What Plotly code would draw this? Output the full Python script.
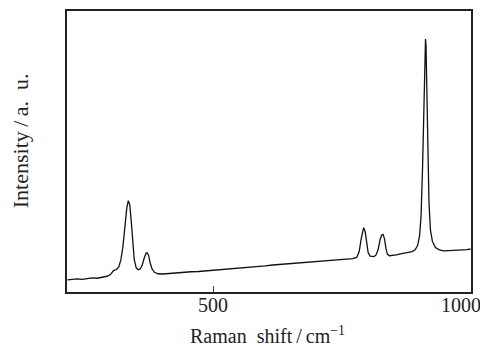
import plotly.graph_objects as go

# Raman spectrum (x: Raman shift in cm^-1, y: intensity, arbitrary units)
raman_shift = [
    205, 215, 225, 235, 245, 255, 265, 275, 285, 292, 298, 304, 309, 313, 317, 321, 325, 328,
    331, 334, 337, 340, 344, 348, 352, 356, 360, 364, 366, 369, 372, 376, 381, 388, 398, 410,
    425, 440, 455, 470, 485, 500, 515, 530, 545, 560, 575, 590, 605, 620, 635, 650, 665, 680,
    695, 710, 725, 740, 755, 770, 782, 790, 795, 799, 802, 804, 807, 810, 813, 817, 821, 825,
    829, 833, 837, 840, 843, 846, 849, 852, 856, 862, 870, 878, 886, 894, 902, 908, 913, 917,
    920, 923, 926, 928, 929, 930, 932, 934, 936, 939, 943, 949, 957, 966, 975, 985, 995, 1005,
    1013, 1020,
]
intensity = [
    4.3, 4.4, 4.7, 4.5, 4.8, 5.0, 4.9, 5.3, 5.6, 6.2, 7.6, 8.0, 9.0, 11.5, 16.0, 23.0, 30.0, 32.5,
    31.0, 25.0, 17.0, 11.5, 8.6, 7.9, 8.2, 9.5, 12.0, 13.9, 14.0, 13.0, 10.5, 8.2, 7.0, 6.5, 6.4, 6.6,
    6.7, 6.9, 7.2, 7.3, 7.5, 7.8, 7.9, 8.2, 8.3, 8.7, 8.8, 9.1, 9.3, 9.6, 9.8, 10.0, 10.3, 10.5,
    10.7, 10.9, 11.1, 11.2, 11.4, 11.6, 11.9, 12.3, 14.5, 19.0, 22.3, 22.9, 21.5, 17.0, 14.0, 12.8, 12.6, 12.6,
    13.2, 15.0, 18.5, 20.2, 20.5, 19.0, 15.5, 13.4, 12.9, 13.0, 13.2, 13.6, 13.9, 14.1, 14.4, 15.0, 16.5, 20.0,
    27.0, 44.0, 72.0, 86.0, 90.0, 88.0, 72.0, 50.0, 32.0, 22.0, 18.0, 15.8, 15.0, 14.6, 14.7, 14.6, 14.8, 15.0,
    15.1, 15.3,
]

x_ticks = [500, 1000]
x_tick_labels = ["500", "1000"]

font_family = "Liberation Serif"
text_color = "#222222"

fig = go.Figure()
fig.add_trace(go.Scatter(
    x=raman_shift, y=intensity, mode="lines",
    line=dict(color="#111111", width=1.3),
    showlegend=False, hoverinfo="skip",
))

# tick labels drawn as annotations so the rightmost one is not hidden at the page edge
tick_annotations = [
    dict(text=lab, xref="x", yref="paper", x=val, y=-0.046,
         xanchor="center", yanchor="middle", showarrow=False,
         font=dict(family=font_family, size=20, color=text_color))
    for val, lab in zip(x_ticks, x_tick_labels)
]

fig.update_layout(
    width=480, height=346,
    margin=dict(l=67, r=9, t=11, b=54, autoexpand=False),
    paper_bgcolor="white", plot_bgcolor="white",
    font=dict(family=font_family, size=20, color=text_color),
    xaxis=dict(
        range=[204, 1021], tickvals=x_ticks[:1], showticklabels=False,
        ticks="inside", ticklen=6, tickwidth=1, tickcolor="#444444",
        showline=True, mirror=True, linecolor="#222222", linewidth=1.5,
        showgrid=False, zeroline=False, automargin=False,
    ),
    yaxis=dict(
        range=[0, 100], showticklabels=False, ticks="",
        showline=True, mirror=True, linecolor="#222222", linewidth=1.5,
        showgrid=False, zeroline=False, automargin=False,
    ),
    annotations=tick_annotations + [
        dict(text="Raman\u00a0\u00a0shift\u2009/\u2009cm<sup>−1</sup>", xref="paper", yref="paper",
             x=0.496, y=-0.152, xanchor="center", yanchor="middle", showarrow=False,
             font=dict(family=font_family, size=20, color=text_color)),
        dict(text="Intensity\u2009/\u2009a.\u00a0\u00a0u.", xref="paper", yref="paper",
             x=-0.116, y=0.537, xanchor="center", yanchor="middle", textangle=-90,
             showarrow=False, font=dict(family=font_family, size=22, color=text_color)),
    ],
)

fig.write_html("out.html")
